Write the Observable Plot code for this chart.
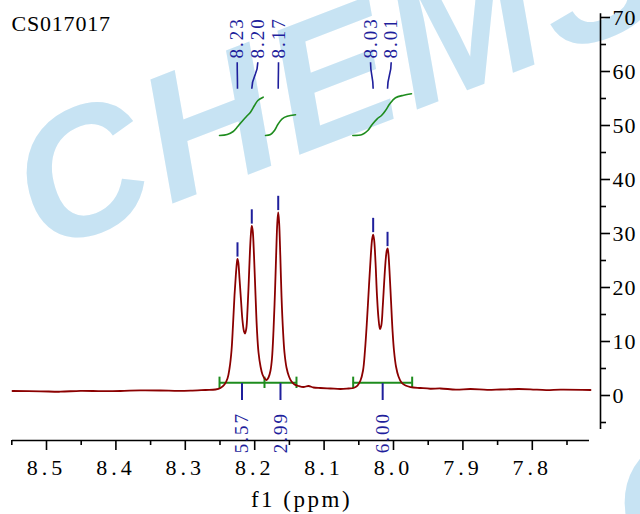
<!DOCTYPE html>
<html>
<head>
<meta charset="utf-8">
<script src="https://cdn.jsdelivr.net/npm/d3@7"></script>
<script src="https://cdn.jsdelivr.net/npm/@observablehq/plot@0.6"></script>
<style>
  html, body { margin: 0; padding: 0; background: #fff; }
</style>
</head>
<body>
<div id="chart"></div>
<script>
// ---------- data ----------
const title = "CS017017";
const xLabel = "f1 (ppm)";
const watermark = "CHEMSRC";

// spectrum trace (ppm, intensity)
const spectrumPpm = [8.5490, 8.5086, 8.4800, 8.4510, 8.4200, 8.3934, 8.3650, 8.3357, 8.3100, 8.2925, 8.2709, 8.2565,
  8.2493, 8.2435, 8.2392, 8.2363, 8.2334, 8.2313, 8.2291, 8.2272, 8.2258, 8.2248, 8.2236, 8.2219, 8.2197, 8.2176,
  8.2154, 8.2140, 8.2121, 8.2104, 8.2085, 8.2068, 8.2053, 8.2042, 8.2029, 8.2010, 8.1988, 8.1967, 8.1945, 8.1916,
  8.1888, 8.1852, 8.1830, 8.1801, 8.1772, 8.1751, 8.1729, 8.1707, 8.1689, 8.1674, 8.1661, 8.1648, 8.1631, 8.1614,
  8.1592, 8.1571, 8.1542, 8.1506, 8.1470, 8.1427, 8.1369, 8.1297, 8.1225, 8.1153, 8.1052, 8.0908, 8.0764, 8.0648,
  8.0576, 8.0519, 8.0476, 8.0439, 8.0411, 8.0382, 8.0353, 8.0327, 8.0307, 8.0293, 8.0278, 8.0259, 8.0238, 8.0216,
  8.0195, 8.0176, 8.0154, 8.0133, 8.0111, 8.0097, 8.0086, 8.0075, 8.0058, 8.0036, 8.0014, 7.9993, 7.9964, 7.9928,
  7.9885, 7.9827, 7.9755, 7.9611, 7.9470, 7.9323, 7.9100, 7.8890, 7.8650, 7.8458, 7.8200, 7.8026, 7.7800, 7.7594, 7.7161];
const spectrumInt = [0.83, 0.78, 0.70, 0.87, 0.80, 0.83, 0.95, 0.93, 0.85, 0.89, 1.02, 1.11,
  1.39, 2.04, 3.15, 5.00, 8.33, 12.96, 18.52, 22.22, 24.44, 25.28, 24.63, 21.67, 17.59, 13.89,
  11.85, 11.48, 12.41, 15.74, 21.30, 26.85, 30.19, 31.39, 30.56, 25.93, 18.52, 12.04, 7.96, 5.37,
  3.89, 3.06, 2.87, 3.33, 4.63, 6.85, 12.04, 19.44, 26.85, 32.04, 33.89, 32.04, 25.93, 18.52,
  12.04, 7.96, 5.19, 3.52, 2.59, 2.04, 1.76, 1.57, 1.76, 1.48, 1.39, 1.30, 1.20, 1.30,
  1.39, 1.85, 2.78, 4.63, 8.33, 13.89, 20.37, 25.93, 29.07, 29.81, 28.70, 24.63, 18.52, 14.26,
  12.31, 12.96, 16.67, 21.30, 25.37, 26.85, 27.22, 26.48, 23.15, 17.59, 12.04, 8.33, 5.37, 3.52,
  2.41, 1.85, 1.57, 1.39, 1.25, 1.30, 1.10, 1.20, 1.05, 1.11, 1.20, 1.15, 1.00, 1.07, 1.02];

// peak picking
const peakPpm = [8.2248, 8.2042, 8.1661, 8.0293, 8.0086];
const peakHeight = [25.28, 31.39, 33.89, 29.81, 27.22];
const peakLabels = ["8.23", "8.20", "8.17", "8.03", "8.01"];
const peakLabelPpm = [8.2252, 8.1955, 8.1657, 8.0331, 8.0033];

// integration regions
const regionStart = [8.2507, 8.1859, 8.0581];
const regionEnd = [8.1859, 8.1398, 7.9731];
const integralValues = ["5.57", "2.99", "6.00"];

// integral curves (ppm, level)
const integral1Ppm = [8.2507, 8.2396, 8.2310, 8.2244, 8.2180, 8.2118, 8.2061, 8.2003, 8.1955, 8.1878];
const integral1Val = [48.15, 48.33, 48.89, 49.81, 50.80, 51.67, 52.46, 53.70, 54.63, 55.24];
const integral2Ppm = [8.1844, 8.1772, 8.1715, 8.1667, 8.1604, 8.1532, 8.1412];
const integral2Val = [48.15, 48.33, 49.07, 50.19, 51.24, 51.72, 51.98];
const integral3Ppm = [8.0586, 8.0451, 8.0370, 8.0307, 8.0235, 8.0173, 8.0115, 8.0053, 7.9971, 7.9852, 7.9741];
const integral3Val = [48.15, 48.33, 49.07, 50.19, 51.24, 51.85, 52.78, 54.02, 55.13, 55.61, 55.87];

// axis ticks
const xMajor = [8.5, 8.4, 8.3, 8.2, 8.1, 8.0, 7.9, 7.8];
const xMinor = [8.55, 8.45, 8.35, 8.25, 8.15, 8.05, 7.95, 7.85, 7.75];
const yMajor = [0, 10, 20, 30, 40, 50, 60, 70];
const yMinor = [-5, 5, 15, 25, 35, 45, 55, 65];

// ---------- derived tables ----------
const spectrum = spectrumPpm.map((x, i) => ({x, y: spectrumInt[i]}));
const peaks = peakPpm.map((x, i) => ({x, h: peakHeight[i], label: peakLabels[i], lx: peakLabelPpm[i]}));
const regions = regionStart.map((s, i) => ({s, e: regionEnd[i], c: (s + regionEnd[i]) / 2, v: integralValues[i]}));
const bounds = Array.from(new Set([...regionStart, ...regionEnd]));
const integrals = [
  ...integral1Ppm.map((x, i) => ({x, y: integral1Val[i], k: 1})),
  ...integral2Ppm.map((x, i) => ({x, y: integral2Val[i], k: 2})),
  ...integral3Ppm.map((x, i) => ({x, y: integral3Val[i], k: 3}))
];

const xDomain = [8.54899, 7.70173];
const yDomain = [-8.333, 70.741];
const dataRight = 7.7176;
const barLevel = 2.35;

const red = "#8b0000", blue = "#1f1f9c", green = "#1e8c1e";
const serif = "Liberation Serif";
const sans = "Liberation Sans";
const fmtX = d => d.toFixed(1);

const chart = Plot.plot({
  width: 640,
  height: 514,
  marginLeft: 12,
  marginRight: 40,
  marginTop: 13,
  marginBottom: 74,
  style: {background: "white", color: "black", fontFamily: serif},
  x: {domain: xDomain, label: null},
  y: {domain: yDomain, label: null},
  marks: [
    // watermark
    Plot.text([watermark], {frameAnchor: "top-left", dx: 30, dy: 240, text: d => d, rotate: -21,
      textAnchor: "start", lineAnchor: "bottom", fontSize: 180, fontWeight: "bold", fontStyle: "italic",
      fill: "#c7e3f3", fontFamily: sans}),
    Plot.text([watermark], {frameAnchor: "top-left", dx: 628, dy: 570, text: d => d, rotate: -21,
      textAnchor: "start", lineAnchor: "bottom", fontSize: 180, fontWeight: "bold", fontStyle: "italic",
      fill: "#c7e3f3", fontFamily: sans}),

    // title
    Plot.text([title], {frameAnchor: "top-left", dx: -1, dy: 17, text: d => d, textAnchor: "start",
      lineAnchor: "bottom", fontSize: 22, fill: "black", fontFamily: serif}),

    // axis lines and ticks
    Plot.ruleY([yDomain[0]], {x1: xDomain[0], x2: dataRight, stroke: "black", strokeWidth: 1.6}),
    Plot.ruleX([xDomain[1]], {y1: -6.3, y2: 70.7, stroke: "black", strokeWidth: 1.6}),
    Plot.axisX(xMajor, {anchor: "bottom", tickSize: 10, tickPadding: 9, fontSize: 22, strokeWidth: 1.6,
      tickFormat: fmtX, fill: "black", fontFamily: serif, label: null}),
    Plot.axisX(xMinor, {anchor: "bottom", tickSize: 5, strokeWidth: 1.6, tickFormat: () => "", label: null}),
    Plot.axisY(yMajor, {anchor: "right", tickSize: 9, tickPadding: 3, fontSize: 22, strokeWidth: 1.6,
      fill: "black", fontFamily: serif, label: null}),
    Plot.axisY(yMinor, {anchor: "right", tickSize: 5, strokeWidth: 1.6, tickFormat: () => "", label: null}),
    Plot.text([xLabel], {frameAnchor: "bottom", dx: -5, dy: 66, text: d => d, lineAnchor: "bottom",
      fontSize: 23, fill: "black", fontFamily: serif}),

    // integration bars
    Plot.ruleY(regions, {x1: "s", x2: "e", y: barLevel, stroke: green, strokeWidth: 2}),
    Plot.ruleX(bounds, {x: d => d, y1: barLevel - 1.05, y2: barLevel + 1.05, stroke: green, strokeWidth: 2}),
    Plot.ruleX(regions, {x: "c", y1: barLevel - 0.15, y2: -0.93, stroke: blue, strokeWidth: 2}),
    Plot.text(regions, {x: "c", y: -10.7, text: "v", rotate: -90, textAnchor: "start", lineAnchor: "middle",
      fontSize: 19, fill: blue, fontFamily: serif}),

    // spectrum
    Plot.line(spectrum, {x: "x", y: "y", stroke: red, strokeWidth: 1.8, curve: "catmull-rom"}),

    // peak markers
    Plot.ruleX(peaks, {x: "x", y1: d => d.h + 0.35, y2: d => d.h + 3.0, stroke: blue, strokeWidth: 2}),
    Plot.link(peaks, {x1: "lx", y1: 61.7, x2: "x", y2: 56.8, curve: "bump-y", stroke: blue, strokeWidth: 1.6}),
    Plot.text(peaks, {x: "lx", y: 62.4, text: "label", rotate: -90, textAnchor: "start", lineAnchor: "middle",
      fontSize: 19, fill: blue, fontFamily: serif}),

    // integral curves
    Plot.line(integrals, {x: "x", y: "y", z: "k", stroke: green, strokeWidth: 1.6, curve: "catmull-rom"})
  ]
});

// letter spacing to mimic the wide CJK-style numerals of the original
const xTickSet = new Set(xMajor.map(fmtX));
const yTickSet = new Set(yMajor.map(String));
const peakSet = new Set(peakLabels);
const integralSet = new Set(integralValues);
d3.select(chart).selectAll("text").each(function () {
  const t = this.textContent;
  const s = this.style;
  if (t === watermark) { s.fontFamily = sans; s.letterSpacing = "6px"; }
  else if (xTickSet.has(t)) { s.letterSpacing = "4px"; s.fontFamily = serif; }
  else if (yTickSet.has(t)) { s.letterSpacing = "1px"; s.fontFamily = serif; }
  else if (peakSet.has(t) || integralSet.has(t)) { s.letterSpacing = "2px"; s.fontFamily = serif; }
  else if (t === title) { s.letterSpacing = "0.8px"; }
  else if (t === xLabel) { s.letterSpacing = "2.5px"; s.fontFamily = serif; }
});
document.getElementById("chart").appendChild(chart);
</script>
</body>
</html>
